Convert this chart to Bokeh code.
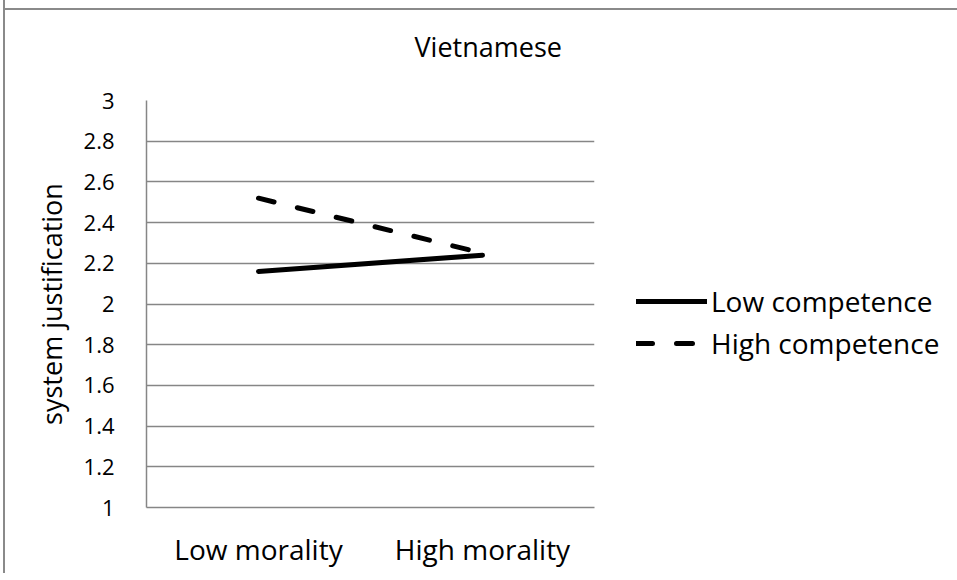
from bokeh.plotting import figure
from bokeh.models import (Range1d, FactorRange, FixedTicker, Legend, LegendItem, ColumnDataSource)
from bokeh.embed import file_html
from bokeh.resources import INLINE

# ---- data ----
categories = ["Low morality", "High morality"]
low_competence = [2.16, 2.24]
high_competence = [2.52, 2.25]
series_names = ["Low competence", "High competence"]
y_ticks = [1, 1.2, 1.4, 1.6, 1.8, 2, 2.2, 2.4, 2.6, 2.8, 3]
y_tick_labels = ["1", "1.2", "1.4", "1.6", "1.8", "2", "2.2", "2.4", "2.6", "2.8", "3"]
title_text = "Vietnamese"
y_label = "system justification"

FONT = "Open Sans"
GRID = "#868686"
BORDER = "#8a8a8a"

src = ColumnDataSource(dict(cat=categories, low=low_competence, high=high_competence))

TOP = 111
p = figure(width=941, height=TOP + 407 + 66, x_range=FactorRange(*categories, range_padding=0),
           y_range=Range1d(1, 3), output_backend="svg", toolbar_location=None,
           frame_width=448, frame_height=407,
           min_border_left=141, min_border_top=TOP, min_border_bottom=66, min_border_right=352)
p.x_range.factor_padding = 0
p.outline_line_color = None
p.background_fill_color = "white"
p.border_fill_alpha = 0
p.styles = {"border-left": f"2px solid {BORDER}",
            "margin-left": "3px", "margin-top": f"{100 - TOP}px",
            "background": f"linear-gradient({BORDER},{BORDER}) no-repeat 0px {8 - (100 - TOP)}px / 100% 2px"}

# title
p.title.text = title_text
p.title.align = "left"
p.title.offset = 268
p.title.text_font = FONT
p.title.text_font_size = "27px"
p.title.text_font_style = "normal"
p.title.text_color = "black"
p.title.standoff = 72

# grids
p.xgrid.grid_line_color = None
p.ygrid.grid_line_color = GRID
p.ygrid.grid_line_width = 1.5
p.yaxis.ticker = FixedTicker(ticks=y_ticks)
p.yaxis.major_label_overrides = {t: l for t, l in zip(y_ticks, y_tick_labels)}

for ax in (p.xaxis[0], p.yaxis[0]):
    ax.axis_line_color = GRID
    ax.axis_line_width = 1.5
    ax.major_tick_line_color = None
    ax.minor_tick_line_color = None
    ax.major_label_text_font = FONT
    ax.major_label_text_color = "black"
    ax.axis_label_text_font = FONT
    ax.axis_label_text_font_style = "normal"
    ax.axis_label_text_color = "black"

p.yaxis.major_label_text_font_size = "22px"
p.yaxis.major_label_standoff = 26
p.yaxis.axis_label = y_label
p.yaxis.axis_label_text_font_size = "27px"
p.yaxis.axis_label_standoff = 11
p.xaxis.major_label_text_font_size = "28px"
p.xaxis.major_label_standoff = 16

r_low = p.line("cat", "low", source=src, line_color="black", line_width=5, line_cap="round")
r_high = p.line("cat", "high", source=src, line_color="black", line_width=5, line_cap="round",
                line_dash="16 24")

legend = Legend(items=[LegendItem(label=series_names[0], renderers=[r_low]),
                       LegendItem(label=series_names[1], renderers=[r_high])],
                location=(42, 145), orientation="vertical",
                glyph_width=71, glyph_height=30, label_standoff=4, spacing=4,
                padding=0, margin=0, border_line_color=None, background_fill_alpha=0,
                label_text_font=FONT, label_text_font_size="28px", label_text_color="black")
p.add_layout(legend, "right")

open("out.html", "w").write(file_html(p, INLINE))
